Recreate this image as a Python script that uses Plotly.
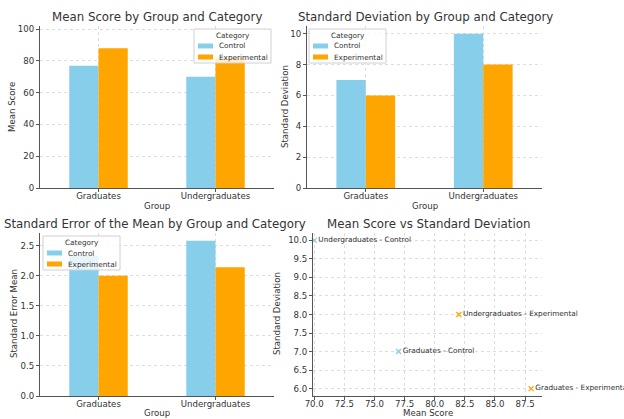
import plotly.graph_objects as go

groups = ["Graduates", "Undergraduates"]
categories = ["Control", "Experimental"]
mean_control = [77, 70]
mean_experimental = [88, 82]
sd_control = [7, 10]
sd_experimental = [6, 8]
sem_control = [2.33, 2.58]
sem_experimental = [2.0, 2.14]
colors = {"Control": "#87CEEB", "Experimental": "#FFA500"}

W, H = 624, 419
def fx(p):
    return p / W
def fy(p):
    return (H - p) / H
def px_x(a, b):
    return [a / W, b / W]
def px_y(top, bottom):
    return [(H - bottom) / H, (H - top) / H]

FONT = "DejaVu Sans"
TXT = "#333333"
fig = go.Figure()

panels = [
    ("x", "y", mean_control, mean_experimental),
    ("x2", "y2", sd_control, sd_experimental),
    ("x3", "y3", sem_control, sem_experimental),
]
for xa, ya, c, e in panels:
    fig.add_trace(go.Bar(x=groups, y=c, name="Control", marker=dict(color=colors["Control"], line=dict(width=0)),
                         xaxis=xa, yaxis=ya, showlegend=False))
    fig.add_trace(go.Bar(x=groups, y=e, name="Experimental", marker=dict(color=colors["Experimental"], line=dict(width=0)),
                         xaxis=xa, yaxis=ya, showlegend=False))

# scatter
for cat, means, sds in [("Control", mean_control, sd_control), ("Experimental", mean_experimental, sd_experimental)]:
    fig.add_trace(go.Scatter(x=means, y=sds, mode="markers+text",
                             text=[f"{g} - {cat}" for g in groups],
                             textposition="middle right",
                             textfont=dict(size=7.3, color=TXT, family=FONT),
                             marker=dict(symbol="x-thin", size=5, color=colors[cat], line=dict(width=1.3, color=colors[cat])),
                             xaxis="x4", yaxis="y4", showlegend=False, cliponaxis=False))

axis_common = dict(showline=True, linecolor="#555555", linewidth=1, ticks="outside", ticklen=3,
                   tickcolor="#555555", showgrid=True, gridcolor="#dddddd", griddash="dot", gridwidth=1,
                   tickfont=dict(size=8.6, color=TXT, family=FONT), zeroline=False, mirror=False,
                   automargin=False)

fig.update_layout(
    width=W, height=H, margin=dict(l=0, r=0, t=0, b=0),
    plot_bgcolor="white", paper_bgcolor="white",
    barmode="group", bargap=0.5, bargroupgap=0, showlegend=False,
    font=dict(family=FONT, color=TXT),
    xaxis=dict(domain=px_x(40, 274), anchor="y", range=[-0.5, 1.5], ticklabelstandoff=-3, **axis_common),
    yaxis=dict(domain=px_y(26, 188), anchor="x", range=[0, 102], dtick=20, **axis_common),
    xaxis2=dict(domain=px_x(307, 542), anchor="y2", range=[-0.5, 1.5], ticklabelstandoff=-3, **axis_common),
    yaxis2=dict(domain=px_y(26, 188), anchor="x2", range=[0, 10.5], dtick=2, **axis_common),
    xaxis3=dict(domain=px_x(40, 274), anchor="y3", range=[-0.5, 1.5], ticklabelstandoff=-3, **axis_common),
    yaxis3=dict(domain=px_y(233, 396), anchor="x3", range=[0, 2.71], dtick=0.5, tickformat=".1f", **axis_common),
    xaxis4=dict(domain=px_x(313, 542), anchor="y4", range=[69.9, 88.9], dtick=2.5, tick0=70, tickformat=".1f", ticklabelstandoff=-3, **axis_common),
    yaxis4=dict(domain=px_y(233, 396), anchor="x4", range=[5.8, 10.2], dtick=0.5, tickformat=".1f", **axis_common),
)

def ann(text, x, y, size, angle=0, xanchor="center"):
    fig.add_annotation(text=text, x=fx(x), y=fy(y), xref="paper", yref="paper",
                       showarrow=False, xanchor=xanchor, yanchor="middle", textangle=angle,
                       font=dict(size=size, color=TXT, family=FONT))

titles = [
    ("Mean Score by Group and Category", 157, 17),
    ("Standard Deviation by Group and Category", 425, 17),
    ("Standard Error of the Mean by Group and Category", 155, 224),
    ("Mean Score vs Standard Deviation", 428, 224),
]
for t, cx, cy in titles:
    ann(t, cx, cy, 11.8)

# axis titles
AX = 8.6
ann("Group", 157, 206, AX)
ann("Group", 425, 206, AX)
ann("Group", 157, 413, AX)
ann("Mean Score", 428, 413, AX)
ann("Mean Score", 12, 107, AX, -90)
ann("Standard Deviation", 285, 107, AX, -90)
ann("Standard Error Mean", 14, 314, AX, -90)
ann("Standard Deviation", 277, 314, AX, -90)

# legends (drawn boxes with real text)
def legend_box(x0, y0):
    w, h = 77, 34
    fig.add_shape(type="rect", xref="paper", yref="paper", x0=fx(x0), x1=fx(x0 + w), y0=fy(y0), y1=fy(y0 + h),
                  line=dict(color="#d0d0d0", width=1), fillcolor="rgba(255,255,255,0.8)", layer="above")
    ann("Category", x0 + w / 2, y0 + 6.5, 7.3)
    for i, cat in enumerate(categories):
        yy = y0 + 17 + i * 11
        fig.add_shape(type="rect", xref="paper", yref="paper", x0=fx(x0 + 4), x1=fx(x0 + 19),
                      y0=fy(yy + 2.5), y1=fy(yy - 2.5), line=dict(width=0), fillcolor=colors[cat], layer="above")
        ann(cat, x0 + 23, yy, 7.3, xanchor="left")

legend_box(194, 29)
legend_box(309, 29)
legend_box(43, 236)

fig.write_html("out.html", config={"displayModeBar": False},
               post_script="document.body.style.margin='0';document.body.style.overflow='hidden';")
